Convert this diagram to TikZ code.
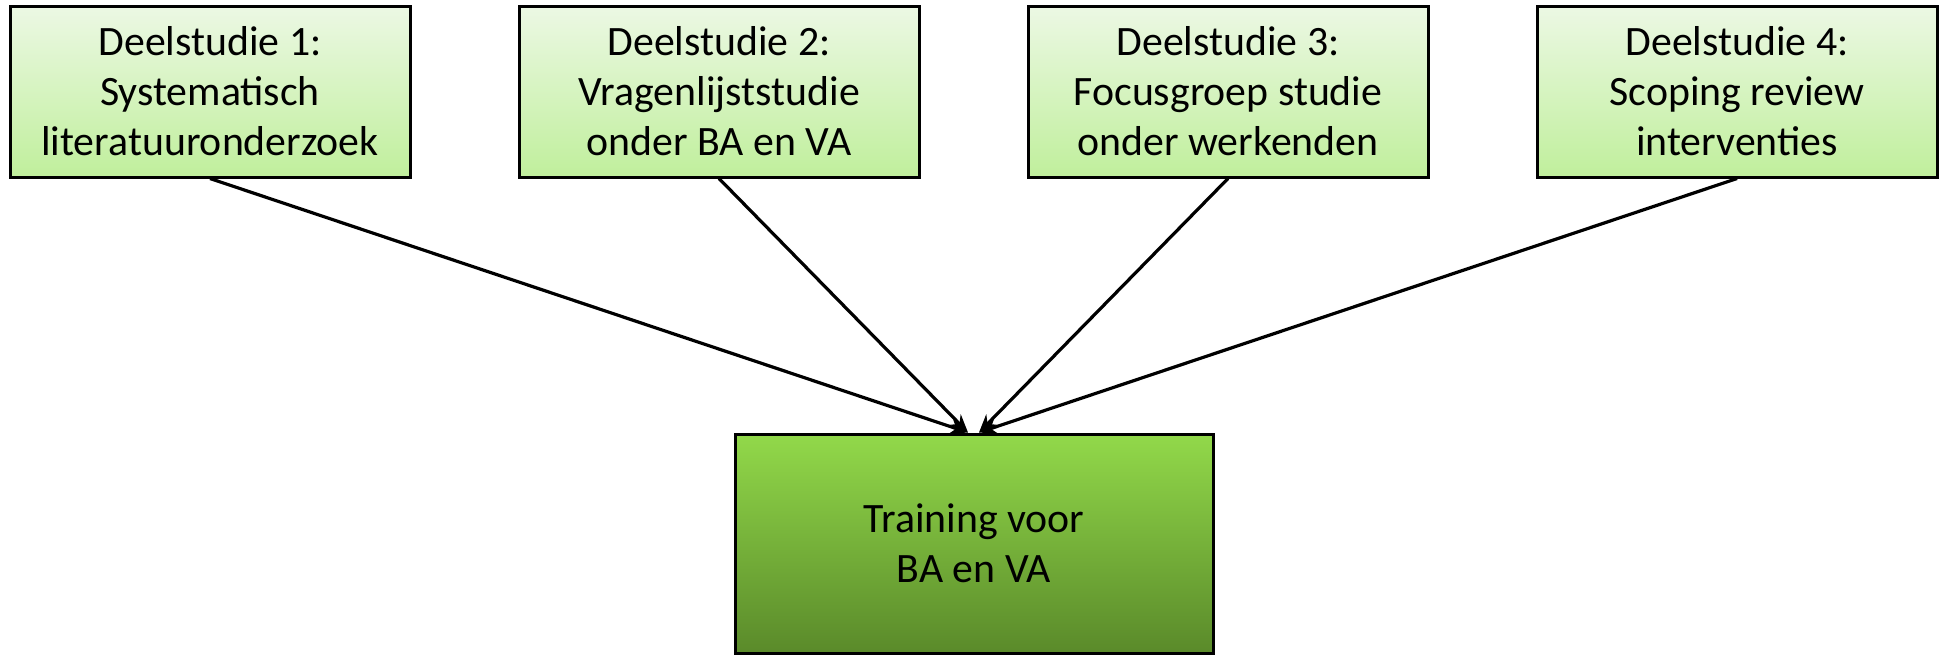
\documentclass[tikz,border=0pt]{standalone}
\usepackage{fontspec}
\setmainfont{Carlito}
\usetikzlibrary{arrows.meta}
\begin{document}
\begin{tikzpicture}[x=0.5pt,y=-0.5pt,
  studybox/.style={draw=black, line width=1.5pt, rectangle, minimum width=200pt, minimum height=85.5pt,
    inner sep=0pt, align=center, top color=topA, bottom color=topB,
    font=\fontsize{20.9pt}{25pt}\selectfont},
  goalbox/.style={draw=black, line width=1.5pt, rectangle, minimum width=239pt, minimum height=109.5pt,
    inner sep=0pt, align=center, top color=botA, bottom color=botB,
    font=\fontsize{20.9pt}{25pt}\selectfont},
  conn/.style={line width=1.6pt, -{Stealth[length=9pt,width=7.5pt]}}]
\definecolor{topA}{HTML}{ECF8E4}
\definecolor{topB}{HTML}{C0EF9C}
\definecolor{botA}{HTML}{92D94A}
\definecolor{botB}{HTML}{5A8A2A}
\useasboundingbox (0,0) rectangle (1939,654);
\node[studybox] (s1) at (210,91.5) {Deelstudie 1:\\Systematisch\\literatuuronderzoek};
\node[studybox] (s2) at (719,91.5) {Deelstudie 2:\\Vragenlijststudie\\onder BA en VA};
\node[studybox] (s3) at (1228,91.5) {Deelstudie 3:\\Focusgroep studie\\onder werkenden};
\node[studybox] (s4) at (1737,91.5) {Deelstudie 4:\\Scoping review\\interventies};
\node[goalbox] (g) at (974,543.5) {Training voor\\BA en VA};
\coordinate (gl) at ([xshift=-3pt]g.north);
\coordinate (gr) at ([xshift=2.5pt]g.north);
\draw[conn] (s1.south) -- (gl);
\draw[conn] (s2.south) -- (gl);
\draw[conn] (s3.south) -- (gr);
\draw[conn] (s4.south) -- (gr);
\end{tikzpicture}
\end{document}
